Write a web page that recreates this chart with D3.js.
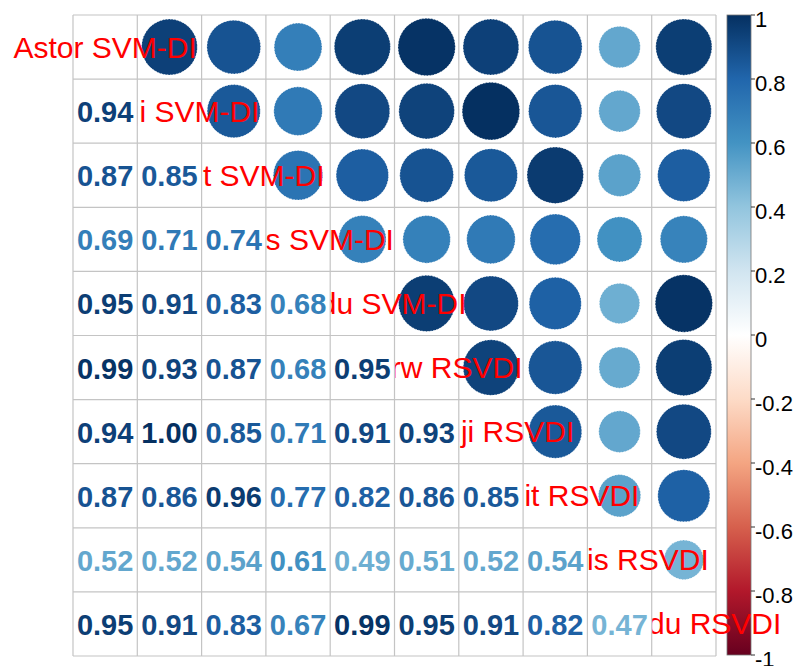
<!DOCTYPE html>
<html>
<head>
<meta charset="utf-8">
<script src="https://cdn.jsdelivr.net/npm/d3@7"></script>
<style>
  html, body { margin: 0; padding: 0; background: #fff; }
  svg { display: block; }
</style>
</head>
<body>
<svg id="chart" width="799" height="666"></svg>
<script>
// Variable names (drawn on the diagonal, centred on each diagonal cell)
const variables = [
  "Astor SVM-DI", "Bunji SVM-DI", "Gilgit SVM-DI", "Gupis SVM-DI", "Skardu SVM-DI",
  "Astorw RSVDI", "Bunji RSVDI", "Gilgit RSVDI", "Gupis RSVDI", "Skardu RSVDI"
];

// Lower-triangle correlation coefficients, row by row (row i holds columns 0..i-1)
const lowerRows = [
  [],
  [0.94],
  [0.87, 0.85],
  [0.69, 0.71, 0.74],
  [0.95, 0.91, 0.83, 0.68],
  [0.99, 0.93, 0.87, 0.68, 0.95],
  [0.94, 1.00, 0.85, 0.71, 0.91, 0.93],
  [0.87, 0.86, 0.96, 0.77, 0.82, 0.86, 0.85],
  [0.52, 0.52, 0.54, 0.61, 0.49, 0.51, 0.52, 0.54],
  [0.95, 0.91, 0.83, 0.67, 0.99, 0.95, 0.91, 0.82, 0.47]
];

// Colour legend ticks
const legendTicks = [1, 0.8, 0.6, 0.4, 0.2, 0, -0.2, -0.4, -0.6, -0.8, -1];

// Diverging red-blue palette stops from -1 to 1
const paletteStops = ["#67001F", "#B2182B", "#D6604D", "#F4A582", "#FDDBC7", "#FFFFFF",
                      "#D1E5F0", "#92C5DE", "#4393C3", "#2166AC", "#053061"];

(function drawCorrplot() {
  const svg = d3.select("#chart");
  const n = variables.length;

  const gLeft = 73, gRight = 716, gTop = 15, gBottom = 656;
  const x = d3.scaleBand().domain(d3.range(n)).range([gLeft, gRight]);
  const y = d3.scaleBand().domain(d3.range(n)).range([gTop, gBottom]);
  const color = d3.scaleLinear()
    .domain(d3.range(11).map(i => -1 + i * 0.2))
    .range(paletteStops)
    .interpolate(d3.interpolateRgb)
    .clamp(true);

  // Full symmetric cell list
  const cells = [];
  lowerRows.forEach((row, i) => {
    row.forEach((v, j) => {
      cells.push({ r: i, c: j, v: v, part: "lower" });
      cells.push({ r: j, c: i, v: v, part: "upper" });
    });
  });
  const upper = cells.filter(d => d.part === "upper");
  const lower = cells.filter(d => d.part === "lower");

  const cw = x.bandwidth(), ch = y.bandwidth();
  const cellSize = Math.min(cw, ch);
  const radius = d3.scaleSqrt().domain([0, 1]).range([0, 0.45 * cellSize]);
  const defs = svg.append("defs");

  // White background of the matrix
  svg.append("rect")
    .attr("x", gLeft).attr("y", gTop)
    .attr("width", gRight - gLeft).attr("height", gBottom - gTop)
    .attr("fill", "#fff");

  // Upper triangle: circles whose area follows |r|
  svg.append("g").selectAll("circle")
    .data(upper)
    .join("circle")
    .attr("cx", d => x(d.c) + cw / 2)
    .attr("cy", d => y(d.r) + ch / 2)
    .attr("r", d => radius(Math.abs(d.v)))
    .attr("fill", d => color(d.v))
    .attr("stroke", "#fff")
    .attr("stroke-width", 0.8)
    .attr("stroke-dasharray", "1.5,1.5");

  // Lower triangle: coefficients
  svg.append("g").selectAll("text")
    .data(lower)
    .join("text")
    .attr("x", d => x(d.c) + cw / 2)
    .attr("y", d => y(d.r) + ch / 2 + 1)
    .attr("text-anchor", "middle")
    .attr("dominant-baseline", "central")
    .attr("font-family", "'Liberation Sans', Arial, sans-serif")
    .attr("font-weight", "bold")
    .attr("font-size", 29)
    .attr("fill", d => color(d.v))
    .text(d => d3.format(".2f")(d.v));

  // Grid lines
  const grid = svg.append("g").attr("stroke", "#C4C4C4").attr("stroke-width", 1.2);
  d3.range(n + 1).forEach(i => {
    const xv = i < n ? x(i) : gRight;
    const yv = i < n ? y(i) : gBottom;
    grid.append("line").attr("x1", xv).attr("x2", xv).attr("y1", gTop).attr("y2", gBottom);
    grid.append("line").attr("x1", gLeft).attr("x2", gRight).attr("y1", yv).attr("y2", yv);
  });

  // Colour legend
  const barX = 727, barW = 24;
  const ly = d3.scaleLinear().domain([1, -1]).range([gTop, gBottom - 1]);
  const grad = defs.append("linearGradient")
    .attr("id", "legendGrad")
    .attr("x1", 0).attr("x2", 0).attr("y1", 0).attr("y2", 1);
  d3.range(11).forEach(i => {
    const v = 1 - i * 0.2;
    grad.append("stop").attr("offset", i / 10).attr("stop-color", color(v));
  });
  svg.append("rect")
    .attr("x", barX).attr("y", ly(1))
    .attr("width", barW).attr("height", ly(-1) - ly(1))
    .attr("fill", "url(#legendGrad)")
    .attr("stroke", "#777").attr("stroke-width", 0.8);

  const legendAxis = svg.append("g");
  legendAxis.selectAll("line")
    .data(legendTicks)
    .join("line")
    .attr("x1", barX + barW).attr("x2", barX + barW + 4)
    .attr("y1", d => ly(d)).attr("y2", d => ly(d))
    .attr("stroke", "#333").attr("stroke-width", 1);
  legendAxis.selectAll("text")
    .data(legendTicks)
    .join("text")
    .attr("x", barX + barW + 4)
    .attr("y", d => ly(d) + 4)
    .attr("dominant-baseline", "central")
    .attr("font-family", "'Liberation Sans', Arial, sans-serif")
    .attr("font-size", 22)
    .attr("fill", "#000")
    .text(d => String(+d.toFixed(1)));

  // Diagonal labels on top; each is hidden left of its diagonal cell
  // (where the coefficient cells of that row sit), except the first row.
  variables.forEach((name, i) => {
    const clipId = "labelClip" + i;
    defs.append("clipPath").attr("id", clipId)
      .append("rect")
      .attr("x", i === 0 ? 0 : x(i) + 0.6)
      .attr("y", y(i) - 20)
      .attr("width", 799)
      .attr("height", ch + 40);
  });
  svg.append("g").selectAll("text")
    .data(variables)
    .join("text")
    .attr("clip-path", (d, i) => `url(#labelClip${i})`)
    .attr("x", (d, i) => x(i) + cw / 2)
    .attr("y", (d, i) => y(i) + ch / 2)
    .attr("text-anchor", "middle")
    .attr("dominant-baseline", "central")
    .attr("font-family", "'Liberation Sans', Arial, sans-serif")
    .attr("font-size", 30)
    .attr("fill", "#FF0000")
    .text(d => d);
})();
</script>
</body>
</html>
